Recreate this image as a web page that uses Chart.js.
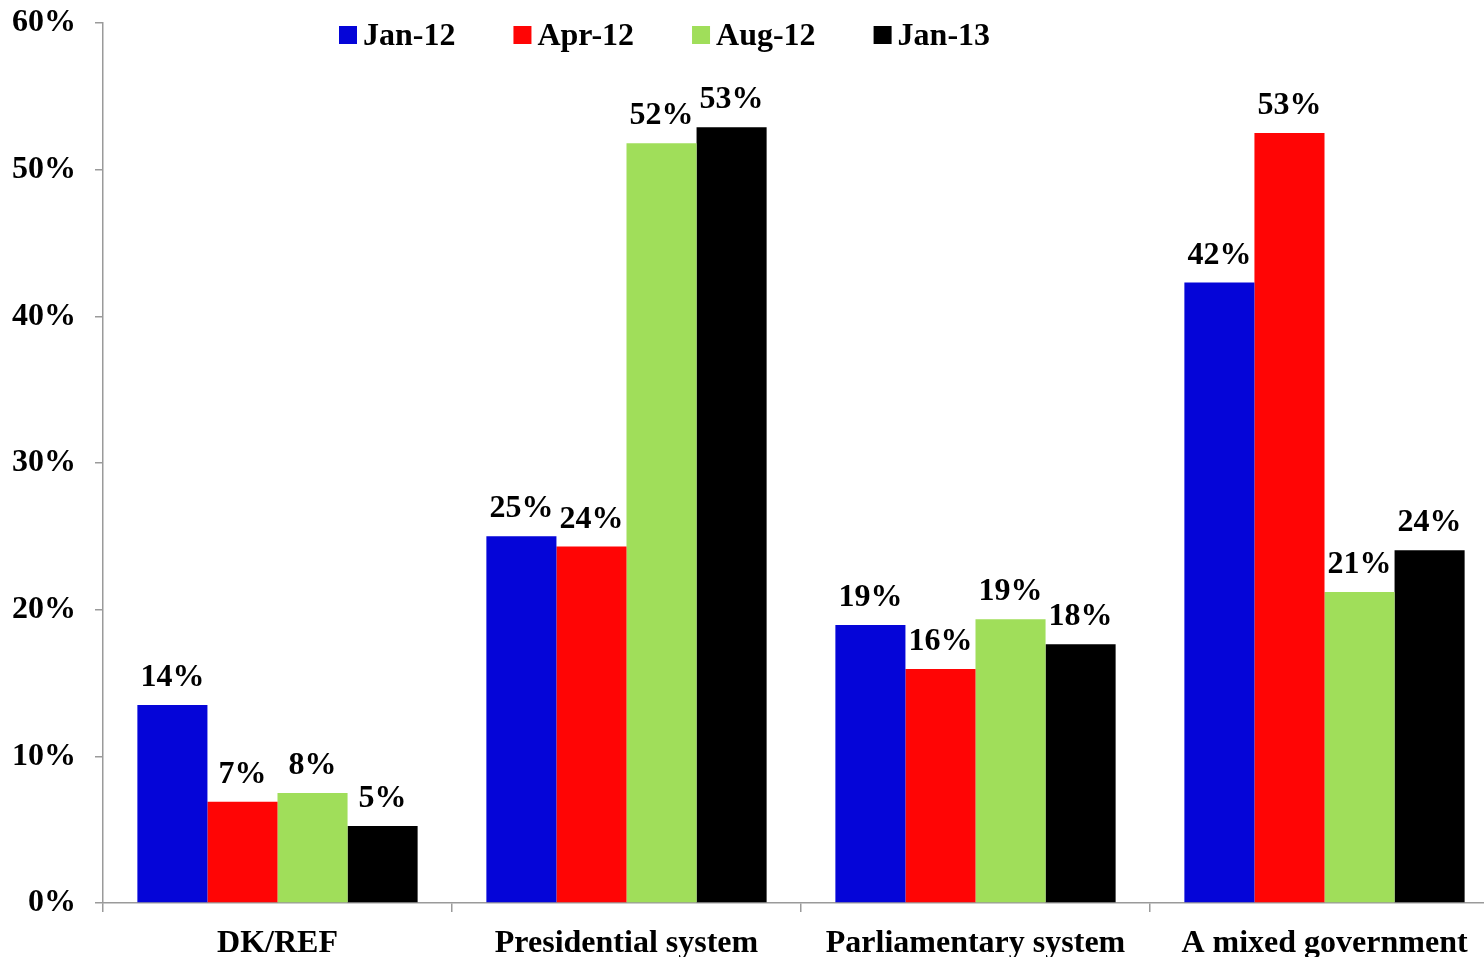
<!DOCTYPE html>
<html>
<head>
<meta charset="utf-8">
<script src="https://cdn.jsdelivr.net/npm/chart.js@4/dist/chart.umd.min.js"></script>
<style>
html,body{margin:0;padding:0;background:#fff;overflow:hidden;}
#wrap{position:absolute;left:0;top:0;width:1499px;height:975px;}
</style>
</head>
<body>
<div id="wrap"><canvas id="c" width="1499" height="975"></canvas></div>
<script>
const categories = ['DK/REF', 'Presidential system', 'Parliamentary system', 'A mixed government'];
const seriesNames = ['Jan-12', 'Apr-12', 'Aug-12', 'Jan-13'];
const jan12 = [13.5, 25.0, 18.95, 42.3];
const apr12 = [6.9, 24.3, 15.95, 52.5];
const aug12 = [7.5, 51.8, 19.35, 21.2];
const jan13 = [5.25, 52.9, 17.65, 24.05];
const yTicks = [0, 10, 20, 30, 40, 50, 60];
const colors = ['#0505D8', '#FF0505', '#A0DE5A', '#000000'];

const FONT = '"Liberation Serif", "Times New Roman", serif';
const FS = 32;
const AXIS = '#9a9a9a';

const valueLabels = {
  id: 'valueLabels',
  afterDatasetsDraw(chart) {
    const ctx = chart.ctx;
    ctx.save();
    ctx.font = 'bold ' + FS + 'px ' + FONT;
    ctx.fillStyle = '#000';
    ctx.textAlign = 'center';
    ctx.textBaseline = 'alphabetic';
    chart.data.datasets.forEach((ds, i) => {
      const meta = chart.getDatasetMeta(i);
      meta.data.forEach((el, j) => {
        ctx.fillText(Math.round(ds.data[j]) + '%', el.x, el.y - 19);
      });
    });
    ctx.restore();
  }
};

const topLegend = {
  id: 'topLegend',
  afterDraw(chart) {
    const ctx = chart.ctx;
    ctx.save();
    ctx.font = 'bold ' + FS + 'px ' + FONT;
    ctx.textAlign = 'left';
    ctx.textBaseline = 'alphabetic';
    let x = 339;
    chart.data.datasets.forEach(ds => {
      ctx.fillStyle = ds.backgroundColor;
      ctx.fillRect(x, 26, 18, 18);
      ctx.fillStyle = '#000';
      ctx.fillText(ds.label, x + 24, 45);
      x += 24 + ctx.measureText(ds.label).width + 58;
    });
    ctx.restore();
  }
};

const seriesData = [jan12, apr12, aug12, jan13];

new Chart(document.getElementById('c'), {
  type: 'bar',
  data: {
    labels: categories,
    datasets: seriesNames.map((n, i) => ({
      label: n,
      data: seriesData[i],
      backgroundColor: colors[i],
      borderWidth: 0,
      categoryPercentage: 0.803,
      barPercentage: 1.0
    }))
  },
  options: {
    responsive: false,
    animation: false,
    layout: { padding: { top: 23, left: 0, right: 0, bottom: 0 } },
    plugins: { legend: { display: false }, tooltip: { enabled: false } },
    scales: {
      x: {
        grid: { display: true, offset: true, drawOnChartArea: false, tickLength: 9, color: AXIS, lineWidth: 1.5 },
        border: { display: true, color: AXIS, width: 1.5 },
        ticks: { color: '#000', font: { family: FONT, size: FS, weight: 'bold' }, padding: 13, maxRotation: 0, autoSkip: false },
        afterFit(s) { s.height = 72; s.paddingLeft = 0; s.paddingRight = 0; }
      },
      y: {
        min: 0, max: 60,
        afterBuildTicks(s) { s.ticks = yTicks.map(v => ({ value: v })); },
        grid: { display: true, drawOnChartArea: false, tickLength: 8, color: AXIS, lineWidth: 1.5 },
        border: { display: true, color: AXIS, width: 1.5 },
        ticks: { color: '#000', font: { family: FONT, size: FS, weight: 'bold' }, padding: 19, callback: v => v + '%' },
        afterFit(s) { s.width = 103; s.paddingTop = 0; s.paddingBottom = 0; }
      }
    }
  },
  plugins: [valueLabels, topLegend]
});
</script>
</body>
</html>
